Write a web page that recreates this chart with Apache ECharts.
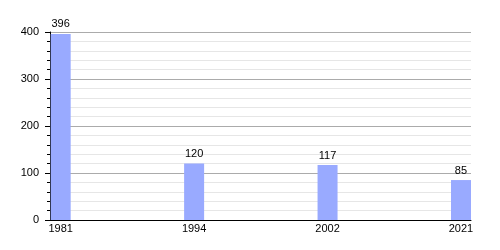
<!DOCTYPE html>
<html>
<head>
<meta charset="utf-8">
<script src="https://cdn.jsdelivr.net/npm/echarts@6/dist/echarts.min.js"></script>
<style>html,body{margin:0;padding:0;background:#fff}#c{width:500px;height:250px}</style>
</head>
<body>
<div id="c"></div>
<script>
var years = ['1981', '1994', '2002', '2021'];
var population = [396, 120, 117, 85];
var yTicks = [0, 100, 200, 300, 400];

var positions = years.map(function (y, i) { return i; });
var chart = echarts.init(document.getElementById('c'), null, {renderer: 'canvas'});
chart.setOption({
  animation: false,
  backgroundColor: '#ffffff',
  textStyle: {fontFamily: 'Liberation Sans, Arial, sans-serif'},
  grid: {left: 50, right: 29, top: 32, bottom: 30, containLabel: false},
  xAxis: {
    type: 'value',
    min: -0.08,
    max: positions.length - 1 + 0.075,
    axisLine: {show: true, onZero: false, lineStyle: {color: '#000', width: 1}},
    axisTick: {show: false},
    splitLine: {show: false},
    axisLabel: {
      customValues: positions,
      margin: 3,
      fontSize: 11,
      color: '#000',
      fontFamily: 'Liberation Sans, Arial, sans-serif',
      formatter: function (v) { return years[Math.round(v)]; }
    }
  },
  yAxis: {
    type: 'value',
    min: yTicks[0],
    max: yTicks[yTicks.length - 1],
    interval: 100,
    axisLine: {show: true, onZero: false, lineStyle: {color: '#000', width: 1}},
    axisTick: {show: true, length: 5, lineStyle: {color: '#000', width: 1}},
    minorTick: {show: true, splitNumber: 5, length: 3, lineStyle: {color: '#000', width: 1}},
    splitLine: {show: true, lineStyle: {color: '#ababab', width: 1}},
    minorSplitLine: {show: true, lineStyle: {color: '#e6e6e6', width: 1}},
    axisLabel: {
      margin: 11,
      fontSize: 11,
      color: '#000',
      fontFamily: 'Liberation Sans, Arial, sans-serif'
    }
  },
  series: [{
    type: 'bar',
    barWidth: 20,
    data: positions.map(function (p, i) { return [p, population[i]]; }),
    itemStyle: {color: '#99aaff'},
    label: {
      show: true,
      position: 'top',
      distance: 4,
      fontSize: 11,
      color: '#000',
      fontFamily: 'Liberation Sans, Arial, sans-serif',
      formatter: function (p) { return p.value[1]; }
    }
  }]
});
</script>
</body>
</html>
